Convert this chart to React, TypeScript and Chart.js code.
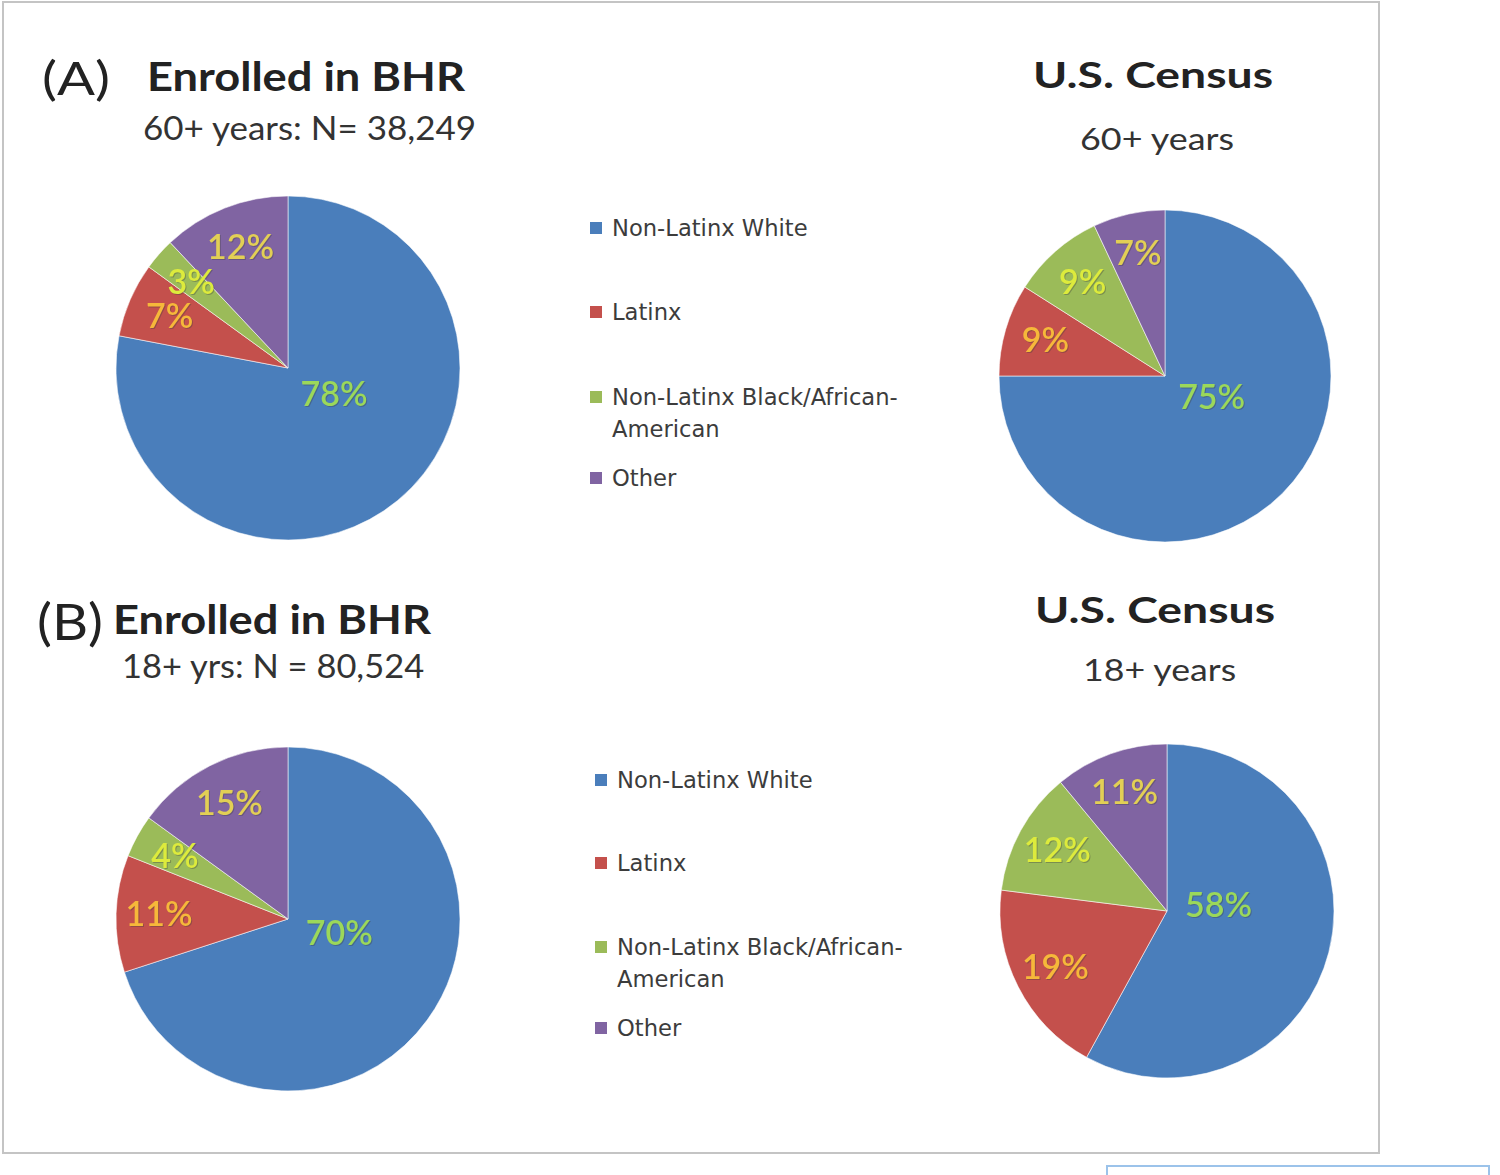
import React, { useEffect, useRef } from "react";
import { Chart, registerables } from "chart.js";

Chart.register(...registerables);

// ---------- data ----------
const CATEGORIES = [
  "Non-Latinx White",
  "Latinx",
  "Non-Latinx Black/African-American",
  "Other",
];
const BHR_60_VALUES = [78, 7, 3, 12];
const CENSUS_60_VALUES = [75, 9, 9, 7];
const BHR_18_VALUES = [70, 11, 4, 15];
const CENSUS_18_VALUES = [58, 19, 12, 11];

const SLICE_COLORS = ["#4A7EBB", "#C4504C", "#9BBB59", "#8064A2"];
const LABEL_COLORS = ["#9BD85A", "#F6B83A", "#DDEB3C", "#E2CF55"];

// ---------- text helpers ----------
const FONT_METRICS: Record<string, { cap: number; base: number }> = {
  Lato: { cap: 0.7165, base: 0.887 },
  "DejaVu Sans": { cap: 0.729, base: 0.846 },
};

let measureCtx: CanvasRenderingContext2D | null = null;
function measure(text: string, font: string): number {
  if (!measureCtx) {
    const c = document.createElement("canvas");
    measureCtx = c.getContext("2d");
  }
  if (!measureCtx) return 1;
  measureCtx.font = font;
  return measureCtx.measureText(text).width || 1;
}

type TextProps = {
  text: string;
  left: number;
  baseline: number;
  capH: number;
  width?: number;
  weight?: string;
  family?: string;
  color?: string;
};

function Txt({ text, left, baseline, capH, width, weight = "normal", family = "Lato", color = "#222" }: TextProps) {
  const m = FONT_METRICS[family];
  const fs = capH / m.cap;
  const top = baseline - m.base * fs;
  const w = measure(text, `${weight} ${fs}px "${family}"`);
  const sx = width ? width / w : 1;
  return (
    <div
      style={{
        position: "absolute",
        left,
        top,
        fontFamily: `"${family}"`,
        fontWeight: weight as any,
        fontSize: fs,
        lineHeight: `${fs}px`,
        whiteSpace: "nowrap",
        color,
        transform: `scaleX(${sx})`,
        transformOrigin: "left top",
      }}
    >
      {text}
    </div>
  );
}

// ---------- pie ----------
const pctLabelPlugin = {
  id: "pctLabels",
  afterDatasetsDraw(chart: any) {
    const meta = chart.getDatasetMeta(0);
    const values = chart.data.datasets[0].data as number[];
    const ctx = chart.ctx as CanvasRenderingContext2D;
    ctx.save();
    ctx.font = '600 34px "Lato"';
    ctx.textAlign = "center";
    ctx.textBaseline = "middle";
    meta.data.forEach((arc: any, i: number) => {
      const p = arc.getProps(["x", "y", "startAngle", "endAngle", "outerRadius"], true);
      let mid = (p.startAngle + p.endAngle) / 2;
      let frac = 0.75;
      if (i === 0) {
        mid -= (20 * Math.PI) / 180;
        frac = 0.31;
      }
      const lx = p.x + Math.cos(mid) * p.outerRadius * frac;
      const ly = p.y + Math.sin(mid) * p.outerRadius * frac;
      ctx.fillStyle = "rgba(60,60,60,0.35)";
      ctx.fillText(`${values[i]}%`, lx + 1, ly + 1);
      ctx.fillStyle = LABEL_COLORS[i];
      ctx.fillText(`${values[i]}%`, lx, ly);
    });
    ctx.restore();
  },
};

function Pie({ values, cx, cy, r }: { values: number[]; cx: number; cy: number; r: number }) {
  const ref = useRef<HTMLCanvasElement | null>(null);
  const size = 2 * r + 20;
  useEffect(() => {
    if (!ref.current) return;
    const chart = new Chart(ref.current, {
      type: "pie",
      data: {
        labels: CATEGORIES,
        datasets: [
          {
            data: values,
            backgroundColor: SLICE_COLORS,
            borderColor: "rgba(255,255,255,0.55)",
            borderWidth: 1,
          },
        ],
      },
      options: {
        responsive: false,
        maintainAspectRatio: false,
        animation: false,
        radius: r,
        layout: { padding: 0 },
        plugins: { legend: { display: false }, tooltip: { enabled: false } },
      } as any,
      plugins: [pctLabelPlugin],
    });
    return () => chart.destroy();
  }, []);
  return (
    <canvas
      ref={ref}
      width={size}
      height={size}
      style={{ position: "absolute", left: cx - size / 2, top: cy - size / 2, width: size, height: size }}
    />
  );
}

// ---------- legend ----------
function Legend({ left, rows }: { left: number; rows: number[] }) {
  const items = [
    { lines: ["Non-Latinx White"], y: rows[0] },
    { lines: ["Latinx"], y: rows[1] },
    { lines: ["Non-Latinx Black/African-", "American"], y: rows[2] },
    { lines: ["Other"], y: rows[3] },
  ];
  const lineGap = rows[4];
  return (
    <>
      {items.map((it, i) => (
        <React.Fragment key={i}>
          <div
            style={{
              position: "absolute",
              left,
              top: it.y - 6,
              width: 12,
              height: 12,
              background: SLICE_COLORS[i],
            }}
          />
          {it.lines.map((ln, j) => (
            <Txt
              key={j}
              text={ln}
              left={left + 22}
              baseline={it.y + j * lineGap + 8}
              capH={16.5}
              family="DejaVu Sans"
              color="#3c3c3c"
            />
          ))}
        </React.Fragment>
      ))}
    </>
  );
}

export default function App() {
  useEffect(() => {
    document.body.style.margin = "0";
  }, []);
  return (
    <div style={{ position: "absolute", left: 0, top: 0, width: 1500, height: 1175, background: "#fff", overflow: "hidden" }}>
      {/* outer frame */}
      <div
        style={{
          position: "absolute",
          left: 2,
          top: 1,
          width: 1378,
          height: 1153,
          border: "2px solid #c4c4c4",
          boxSizing: "border-box",
        }}
      />
      <div
        style={{
          position: "absolute",
          left: 1106,
          top: 1165,
          width: 384,
          height: 30,
          border: "2px solid #9cc3ea",
          boxSizing: "border-box",
        }}
      />

      {/* Panel A */}
      <Txt text="(A)" left={42} baseline={96} capH={33} width={68} />
      <Txt text="Enrolled in BHR" left={147} baseline={92} capH={29} width={318} weight="bold" />
      <Txt text="60+ years: N= 38,249" left={143} baseline={140} capH={23} width={334} color="#333" />
      <Txt text="U.S. Census" left={1033} baseline={88} capH={26} width={240} weight="bold" />
      <Txt text="60+ years" left={1080} baseline={151} capH={22} width={155} color="#333" />

      {/* Panel B */}
      <Txt text="(B)" left={37} baseline={641} capH={36} width={66} />
      <Txt text="Enrolled in BHR" left={113} baseline={635} capH={29} width={318} weight="bold" />
      <Txt text="18+ yrs: N = 80,524" left={122} baseline={678} capH={23} width={303} color="#333" />
      <Txt text="U.S. Census" left={1035} baseline={623} capH={26} width={240} weight="bold" />
      <Txt text="18+ years" left={1083} baseline={682} capH={22} width={154} color="#333" />

      <Pie values={BHR_60_VALUES} cx={288} cy={368} r={172} />
      <Pie values={CENSUS_60_VALUES} cx={1165} cy={376} r={166} />
      <Pie values={BHR_18_VALUES} cx={288} cy={919} r={172} />
      <Pie values={CENSUS_18_VALUES} cx={1167} cy={911} r={167} />

      <Legend left={590} rows={[228, 312, 397, 478, 32]} />
      <Legend left={595} rows={[780, 863, 947, 1028, 32]} />
    </div>
  );
}
